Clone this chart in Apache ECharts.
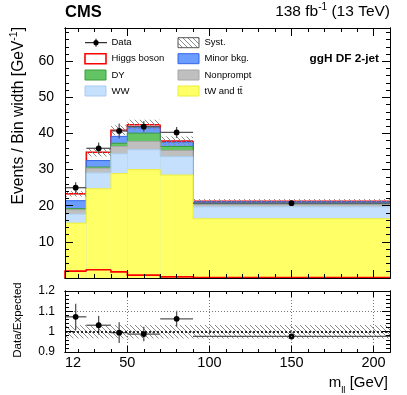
<!DOCTYPE html>
<html><head><meta charset="utf-8">
<script src="https://cdn.jsdelivr.net/npm/echarts@6.0.0/dist/echarts.min.js"></script>
<style>html,body{margin:0;padding:0;background:#fff;}#chart{width:407px;height:395px;}</style>
</head><body><div id="chart"></div>
<script>
// ---------------- data ----------------
const binEdges   = [12, 25, 40, 50, 70, 90, 210];
const tWttbar    = [15.2, 24.7, 28.9, 30.0, 28.5, 16.4];
const wwVals     = [2.5, 4.4, 5.5, 5.5, 5.1, 3.3];
const nonprompt  = [1.2, 1.3, 2.0, 2.3, 1.7, 0.6];
const dyVals     = [0.3, 0.3, 0.9, 2.3, 1.1, 0.1];
const minorBkg   = [2.2, 1.8, 1.9, 1.5, 1.2, 0.7];
const higgsVals  = [1.9, 2.3, 1.7, 0.8, 0.3, 0.1];
const dataVals   = [25.0, 35.9, 40.7, 41.9, 40.3, 20.7];
const dataErr    = [1.5, 1.6, 2.1, 1.5, 1.5, 0.4];
const systRel    = [0.033, 0.033, 0.033, 0.033, 0.033, 0.033];
const xMajorTicks = [50, 100, 150, 200];
const xMinorTicks = [20, 30, 40, 60, 70, 80, 90, 110, 120, 130, 140, 160, 170, 180, 190];
const xTickLabels = [12, 50, 100, 150, 200];
const yMainMajor  = [10, 20, 30, 40, 50, 60];
const yMainMinor  = [2, 4, 6, 8, 12, 14, 16, 18, 22, 24, 26, 28, 32, 34, 36, 38, 42, 44, 46, 48, 52, 54, 56, 58, 62, 64, 66, 68];
const yRatioMajor = [0.9, 1.0, 1.1, 1.2];
const yRatioMinor = [0.92, 0.94, 0.96, 0.98, 1.02, 1.04, 1.06, 1.08, 1.12, 1.14, 1.16, 1.18];
const legendNames = ['Data', 'Higgs boson', 'DY', 'WW', 'Syst.', 'Minor bkg.', 'Nonprompt', 'tW and tt\u0304'];

// ---------------- styling ----------------
const FONT = '"Liberation Sans", Arial, Helvetica, sans-serif';
const X_MIN = 12, X_MAX = 210, Y_MAX = 69.2;

const layers = [
  { name: legendNames[7], vals: tWttbar,   fill: '#ffff66', line: '#eded3c', lw: 1 },
  { name: legendNames[3], vals: wwVals,    fill: '#c4e0fc', line: '#a9cdef', lw: 1 },
  { name: legendNames[6], vals: nonprompt, fill: '#bfbfbf', line: '#a6a6a6', lw: 1 },
  { name: legendNames[2], vals: dyVals,    fill: '#63c463', line: '#3a9c3a', lw: 1 },
  { name: legendNames[5], vals: minorBkg,  fill: '#6a9dff', line: '#3366e6', lw: 1 },
  { name: legendNames[1], vals: higgsVals, fill: '#ffffff', line: '#ff0000', lw: 1.6 }
];
const nb = dataVals.length;
const expected = dataVals.map((_, i) => layers.reduce((s, l) => s + l.vals[i], 0));

function makeHatch(color) {
  const c = document.createElement('canvas');
  c.width = 5; c.height = 5;
  const g = c.getContext('2d');
  g.strokeStyle = color; g.lineWidth = 0.9;
  g.beginPath();
  g.moveTo(-5, 0); g.lineTo(5, 10);
  g.moveTo(0, 0); g.lineTo(5, 5);
  g.moveTo(0, -5); g.lineTo(10, 5);
  g.moveTo(-5, -5); g.lineTo(5, 5);
  g.stroke();
  return c;
}
const hatchCanvas = makeHatch('#8a8a8a');
const hatch = { image: hatchCanvas, repeat: 'repeat' };

// ---------------- series builders ----------------
function cum(k, i) { let s = 0; for (let j = 0; j <= k; j++) s += layers[j].vals[i]; return s; }

function layerSeries(k) {
  const L = layers[k];
  const data = [];
  for (let i = 0; i < nb; i++) {
    const hi = cum(k, i);
    const prev = i > 0 ? cum(k, i - 1) : hi;
    data.push([binEdges[i], binEdges[i + 1], hi, prev]);
  }
  return {
    type: 'custom', xAxisIndex: 0, yAxisIndex: 0, silent: true, clip: true,
    data: data,
    renderItem: function (params, api) {
      const x0 = api.value(0), x1 = api.value(1), hi = api.value(2), pv = api.value(3);
      const a = api.coord([x0, 0]), b = api.coord([x1, hi]), c = api.coord([x0, pv]);
      return { type: 'group', children: [
        { type: 'rect', shape: { x: a[0], y: b[1], width: b[0] - a[0], height: a[1] - b[1] }, style: { fill: L.fill } },
        { type: 'polyline', shape: { points: [[a[0], c[1]], [a[0], b[1]], [b[0], b[1]]] }, style: { fill: null, stroke: L.line, lineWidth: L.lw } }
      ] };
    }
  };
}

function higgsLineSeries() {
  const data = [];
  for (let i = 0; i < nb; i++) data.push([binEdges[i], binEdges[i + 1], higgsVals[i], i > 0 ? higgsVals[i - 1] : 0]);
  return {
    type: 'custom', xAxisIndex: 0, yAxisIndex: 0, silent: true, data: data,
    renderItem: function (params, api) {
      const x0 = api.value(0), x1 = api.value(1), v = api.value(2), pv = api.value(3);
      const a = api.coord([x0, pv]), b = api.coord([x0, v]), c = api.coord([x1, v]);
      return { type: 'polyline', shape: { points: [a, b, c] }, style: { fill: null, stroke: '#ff0000', lineWidth: 1.6 } };
    }
  };
}

function systSeries(xi, yi, ratio) {
  const data = [];
  for (let i = 0; i < nb; i++) {
    const c = ratio ? 1 : expected[i];
    data.push([binEdges[i], binEdges[i + 1], c * (1 - systRel[i]), c * (1 + systRel[i])]);
  }
  return {
    type: 'custom', xAxisIndex: xi, yAxisIndex: yi, silent: true, clip: true, data: data,
    renderItem: function (params, api) {
      const a = api.coord([api.value(0), api.value(2)]), b = api.coord([api.value(1), api.value(3)]);
      return { type: 'rect', shape: { x: a[0], y: b[1], width: b[0] - a[0], height: a[1] - b[1] }, style: { fill: hatch } };
    }
  };
}

function dataSeries(xi, yi, ratio) {
  const data = [];
  for (let i = 0; i < nb; i++) {
    const v = ratio ? dataVals[i] / expected[i] : dataVals[i];
    const e = ratio ? dataErr[i] / expected[i] : dataErr[i];
    data.push([binEdges[i], binEdges[i + 1], v, e]);
  }
  return {
    type: 'custom', xAxisIndex: xi, yAxisIndex: yi, silent: true, clip: true, data: data,
    renderItem: function (params, api) {
      const x0 = api.value(0), x1 = api.value(1), v = api.value(2), e = api.value(3);
      const xc = (x0 + x1) / 2;
      const l = api.coord([x0, v]), r = api.coord([x1, v]);
      const t = api.coord([xc, v + e]), btm = api.coord([xc, v - e]), m = api.coord([xc, v]);
      const col = '#555555';
      return { type: 'group', children: [
        { type: 'line', shape: { x1: l[0], y1: l[1], x2: r[0], y2: r[1] }, style: { stroke: col, lineWidth: 1.3 } },
        { type: 'line', shape: { x1: t[0], y1: t[1], x2: btm[0], y2: btm[1] }, style: { stroke: col, lineWidth: 1.3 } },
        { type: 'circle', shape: { cx: m[0], cy: m[1], r: 2.9 }, style: { fill: '#000' } }
      ] };
    }
  };
}

function ratioGridSeries() {
  return {
    type: 'line', xAxisIndex: 4, yAxisIndex: 4, data: [], silent: true,
    markLine: {
      silent: true, symbol: 'none', label: { show: false }, animation: false,
      data: [
        ...xMajorTicks.map(v => ({ xAxis: v, lineStyle: { color: '#777', type: [1, 2], width: 1 } })),
        { yAxis: 1.1, lineStyle: { color: '#777', type: [1, 2], width: 1 } },
        { yAxis: 1.0, lineStyle: { color: '#000', type: [2, 2], width: 1.6 } }
      ]
    }
  };
}

// ---------------- axes ----------------
const axLine = { show: true, onZero: false, lineStyle: { color: '#000', width: 1 } };
function xAx(grid, pos, ticks, len, label) {
  return {
    type: 'value', gridIndex: grid, min: X_MIN, max: X_MAX, position: pos, offset: 0, z: 10,
    axisLine: axLine, splitLine: { show: false },
    axisTick: { show: true, inside: true, length: len, customValues: ticks, lineStyle: { color: '#000', width: 1 } },
    axisLabel: label || { show: false }
  };
}
function yAx(grid, pos, min, max, ticks, len, label) {
  return {
    type: 'value', gridIndex: grid, min: min, max: max, position: pos, offset: 0, z: 10,
    axisLine: axLine, splitLine: { show: false },
    axisTick: { show: true, inside: true, length: len, customValues: ticks, lineStyle: { color: '#000', width: 1 } },
    axisLabel: label || { show: false }
  };
}
const xLab = {
  show: true, customValues: xTickLabels, margin: 3, color: '#000', fontSize: 14.5, fontFamily: FONT,
  formatter: v => (v === X_MIN ? '{l|' + v + '}' : String(v)),
  rich: { l: { padding: [0, 0, 0, 16], fontSize: 14.5, fontFamily: FONT, color: '#000' } }
};
const yMainLab = { show: true, customValues: yMainMajor, margin: 11, color: '#000', fontSize: 14, fontFamily: FONT };
const yRatioLab = { show: true, customValues: yRatioMajor, margin: 10, color: '#000', fontSize: 12, fontFamily: FONT,
  formatter: v => String(+v.toFixed(2)) };

// ---------------- legend (graphic) ----------------
const legX1 = 85, legX2 = 178, legT1 = 111.5, legT2 = 204.5, rowY = [42.7, 58.7, 75, 91];
const legFont = '9.5px ' + FONT;
function legBox(x, y, fill, stroke, lw) {
  return { type: 'rect', shape: { x: x, y: y - 5, width: 21, height: 10 }, style: { fill: fill, stroke: stroke, lineWidth: lw || 1 } };
}
function legText(x, y, t) {
  return { type: 'text', x: x, y: y, style: { text: t, font: legFont, fill: '#000', textVerticalAlign: 'middle' } };
}
const legendGraphics = [
  { type: 'line', shape: { x1: legX1, y1: rowY[0], x2: legX1 + 22, y2: rowY[0] }, style: { stroke: '#000', lineWidth: 1 } },
  { type: 'line', shape: { x1: legX1 + 11, y1: rowY[0] - 4, x2: legX1 + 11, y2: rowY[0] + 4 }, style: { stroke: '#000', lineWidth: 1 } },
  { type: 'circle', shape: { cx: legX1 + 11, cy: rowY[0], r: 2.6 }, style: { fill: '#000' } },
  legText(legT1, rowY[0], legendNames[0]),
  legBox(legX1, rowY[1], '#ffffff', '#ff0000', 1.6), legText(legT1, rowY[1], legendNames[1]),
  legBox(legX1, rowY[2], layers[3].fill, layers[3].line), legText(legT1, rowY[2], legendNames[2]),
  legBox(legX1, rowY[3], layers[1].fill, layers[1].line), legText(legT1, rowY[3], legendNames[3]),
  legBox(legX2, rowY[0], hatch, '#555', 1), legText(legT2, rowY[0], legendNames[4]),
  legBox(legX2, rowY[1], layers[4].fill, layers[4].line), legText(legT2, rowY[1], legendNames[5]),
  legBox(legX2, rowY[2], layers[2].fill, layers[2].line), legText(legT2, rowY[2], legendNames[6]),
  legBox(legX2, rowY[3], layers[0].fill, layers[0].line), legText(legT2, rowY[3], legendNames[7])
];

const titleGraphics = [
  { type: 'text', x: 65, y: 12, style: { text: 'CMS', font: 'bold 16.5px ' + FONT, fill: '#000', textVerticalAlign: 'middle' } },
  { type: 'text', x: 390, y: 11, style: {
      text: '{n|138 fb}{s|-1}{n| (13 TeV)}', textAlign: 'right', textVerticalAlign: 'middle',
      rich: { n: { font: '15.5px ' + FONT, fill: '#000', lineHeight: 17, verticalAlign: 'bottom' },
              s: { font: '10px ' + FONT, fill: '#000', lineHeight: 17, verticalAlign: 'top' } } } },
  { type: 'text', x: 379, y: 58.5, style: { text: 'ggH DF 2-jet', font: 'bold 11.8px ' + FONT, fill: '#000', textAlign: 'right', textVerticalAlign: 'middle' } },
  { type: 'text', x: 18, y: 27, rotation: Math.PI / 2, style: {
      text: '{n|Events / Bin width [GeV}{s|-1}{n|]}', textAlign: 'right', textVerticalAlign: 'middle',
      rich: { n: { font: '15.6px ' + FONT, fill: '#000', lineHeight: 18, verticalAlign: 'bottom' },
              s: { font: '10.5px ' + FONT, fill: '#000', lineHeight: 18, verticalAlign: 'top' } } } },
  { type: 'text', x: 18, y: 320, rotation: Math.PI / 2, style: { text: 'Data/Expected', font: '11.5px ' + FONT, fill: '#000', textAlign: 'center', textVerticalAlign: 'middle' } },
  { type: 'text', x: 388, y: 385, style: {
      text: '{n|m}{b|ll}{n| [GeV]}', textAlign: 'right', textVerticalAlign: 'middle',
      rich: { n: { font: '15px ' + FONT, fill: '#000', lineHeight: 20, verticalAlign: 'top' },
              b: { font: '9.5px ' + FONT, fill: '#000', lineHeight: 20, verticalAlign: 'bottom' } } } }
];

// ---------------- chart ----------------
const series = [];
for (let k = layers.length - 1; k >= 0; k--) series.push(layerSeries(k));
series.push(higgsLineSeries());
series.push(systSeries(0, 0, false));
series.push(dataSeries(0, 0, false));
series.push(ratioGridSeries());
series.push(systSeries(4, 4, true));
series.push(dataSeries(4, 4, true));

const option = {
  animation: false,
  backgroundColor: '#ffffff',
  grid: [
    { left: 65, right: 17, top: 28, height: 250, containLabel: false },
    { left: 65, right: 17, top: 291, height: 61, containLabel: false }
  ],
  xAxis: [
    xAx(0, 'bottom', xMajorTicks, 8), xAx(0, 'bottom', xMinorTicks, 4),
    xAx(0, 'top', xMajorTicks, 8), xAx(0, 'top', xMinorTicks, 4),
    xAx(1, 'bottom', xMajorTicks, 6, xLab), xAx(1, 'bottom', xMinorTicks, 3),
    xAx(1, 'top', xMajorTicks, 6), xAx(1, 'top', xMinorTicks, 3)
  ],
  yAxis: [
    yAx(0, 'left', 0, Y_MAX, yMainMajor, 8, yMainLab), yAx(0, 'left', 0, Y_MAX, yMainMinor, 4),
    yAx(0, 'right', 0, Y_MAX, yMainMajor, 8), yAx(0, 'right', 0, Y_MAX, yMainMinor, 4),
    yAx(1, 'left', 0.9, 1.2, yRatioMajor, 8, yRatioLab), yAx(1, 'left', 0.9, 1.2, yRatioMinor, 4),
    yAx(1, 'right', 0.9, 1.2, yRatioMajor, 8), yAx(1, 'right', 0.9, 1.2, yRatioMinor, 4)
  ],
  series: series,
  graphic: { elements: legendGraphics.concat(titleGraphics) }
};
const chart = echarts.init(document.getElementById('chart'), null, { renderer: 'canvas', devicePixelRatio: 1 });
chart.setOption(option);
</script>
</body></html>
